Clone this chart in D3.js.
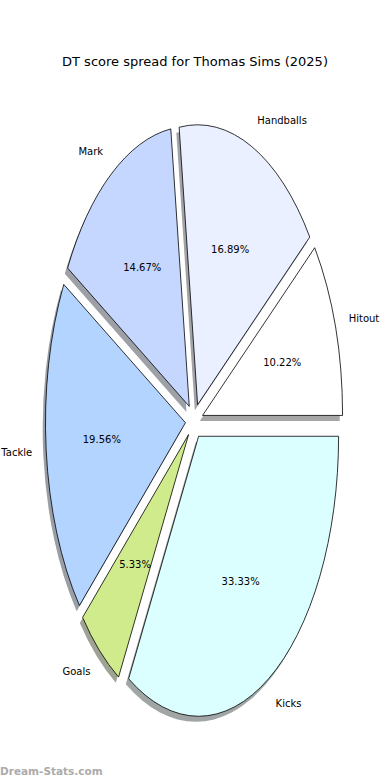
<!DOCTYPE html>
<html>
<head>
<meta charset="utf-8">
<script src="https://cdn.jsdelivr.net/npm/d3@7"></script>
<style>
  body { margin: 0; background: #fff; }
  svg { display: block; font-family: "DejaVu Sans", sans-serif; }
</style>
</head>
<body>
<div id="chart"></div>
<script>
// DT score spread pie

const categories = ["Hitout", "Handballs", "Mark", "Tackle", "Goals", "Kicks"];
const points = [23, 38, 33, 44, 12, 75];
const sliceColors = ["#ffffff", "#eaf0ff", "#c6d7ff", "#b3d4ff", "#d0eb8b", "#dbffff"];
const chartTitle = "DT score spread for Thomas Sims (2025)";

let W = 390, H = 780;
let explode = 0.063;

let svg = d3.select("#chart").append("svg")
    .attr("width", W)
    .attr("height", H);

// the axes are not equal so the pie is an ellipse
let x = d3.scaleLinear().domain([-1, 1]).range([194.2 - 140, 194.2 + 140]);
let y = d3.scaleLinear().domain([-1, 1]).range([421 + 280, 421 - 280]);
let rx = x(1) - x(0), ry = y(0) - y(1);

let total = d3.sum(points);

// matplotlib style: start at 3 o'clock, go counter-clockwise
let pie = d3.pie().sort(null)
    .startAngle(Math.PI / 2)
    .endAngle(Math.PI / 2 - 2 * Math.PI);

let arcs = pie(points);
let arc = d3.arc().innerRadius(0).outerRadius(1);

arcs.forEach((d, i) => {
    d.mid = (d.startAngle + d.endAngle) / 2;
    d.ox = explode * Math.sin(d.mid);
    d.oy = explode * Math.cos(d.mid);
    d.name = categories[i];
});

// shadows under everything
svg.append("g").selectAll("path")
    .data(arcs)
    .enter()
    .append("path")
    .attr("d", arc)
    .attr("transform", d => `translate(${x(d.ox - 0.02)},${y(d.oy - 0.02)}) scale(${rx},${ry})`)
    .attr("fill", (d, i) => {
        let c = d3.rgb(sliceColors[i]);
        return d3.rgb(c.r * 0.3, c.g * 0.3, c.b * 0.3);
    })
    .attr("fill-opacity", 0.5)
    .attr("stroke", "none");

svg.append("g").selectAll("path")
    .data(arcs)
    .enter()
    .append("path")
    .attr("d", arc)
    .attr("transform", d => `translate(${x(d.ox)},${y(d.oy)}) scale(${rx},${ry})`)
    .attr("fill", (d, i) => sliceColors[i])
    .attr("stroke", "#000")
    .attr("stroke-width", 0.8)
    .attr("vector-effect", "non-scaling-stroke")
    .attr("stroke-linejoin", "round");

// category labels
svg.append("g").selectAll("text")
    .data(arcs)
    .enter()
    .append("text")
    .attr("x", d => x(d.ox + 1.1 * Math.sin(d.mid)))
    .attr("y", d => y(d.oy + 1.1 * Math.cos(d.mid)))
    .attr("dy", "0.35em")
    .attr("text-anchor", d => Math.sin(d.mid) > 0 ? "start" : "end")
    .attr("font-size", 10)
    .attr("fill", "#000")
    .text(d => d.name);

// percentages
svg.append("g").selectAll("text")
    .data(arcs)
    .enter()
    .append("text")
    .attr("x", d => x(d.ox + 0.6 * Math.sin(d.mid)))
    .attr("y", d => y(d.oy + 0.6 * Math.cos(d.mid)))
    .attr("dy", "0.35em")
    .attr("text-anchor", "middle")
    .attr("font-size", 10)
    .attr("fill", "#000")
    .text(d => (d.value / total * 100).toFixed(2) + "%");

svg.append("text")
    .attr("x", W / 2)
    .attr("y", 61)
    .attr("dy", "0.35em")
    .attr("text-anchor", "middle")
    .attr("font-size", 13)
    .text(chartTitle);

svg.append("text")
    .attr("x", 0)
    .attr("y", 775)
    .attr("font-size", 10.5)
    .attr("font-weight", "bold")
    .attr("fill", "#ababab")
    .text("Dream-Stats.com");
</script>
</body>
</html>
